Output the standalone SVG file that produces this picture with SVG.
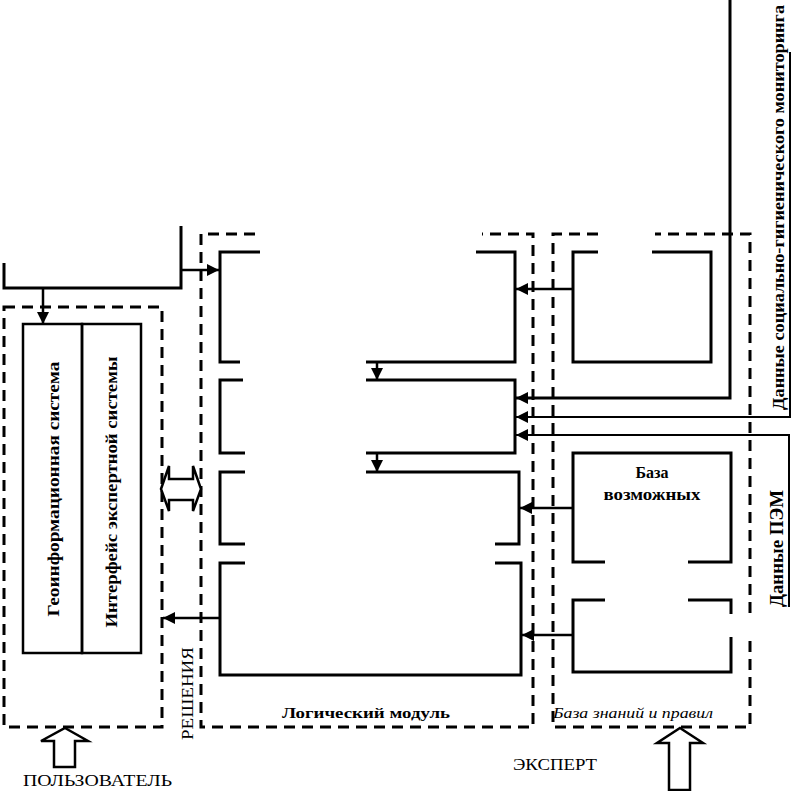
<svg xmlns="http://www.w3.org/2000/svg" width="794" height="791" viewBox="0 0 794 791">
<style>
.box{fill:none;stroke:#000;stroke-width:3}
.dash{fill:none;stroke:#000;stroke-width:3;stroke-dasharray:11 7}
.ln{fill:none;stroke:#000;stroke-width:2.5}
.thin{fill:none;stroke:#000;stroke-width:2}
.hol{fill:#fff;stroke:#000;stroke-width:2.5}
.b{font-family:"Liberation Serif","Times New Roman",serif;font-weight:bold;fill:#000}
.r{font-family:"Liberation Serif","Times New Roman",serif;fill:#000}
.i{font-family:"Liberation Serif","Times New Roman",serif;font-style:italic;fill:#000}
</style>
<defs>
<marker id="ah" markerUnits="userSpaceOnUse" markerWidth="12" markerHeight="12" viewBox="0 0 12 12" refX="12" refY="6" orient="auto">
<path d="M0,0 L12,6 L0,12 Z" fill="#000"/>
</marker>
</defs>
<rect width="794" height="791" fill="#fff"/>

<g id="user-block">
<rect class="dash" x="4" y="307" width="158" height="420"/>
</g>
<g id="logic-module">
<path class="dash" d="M255,234 H201 V727 H533 V234 H482"/>
<text class="b" x="366" y="718" font-size="15" text-anchor="middle" textLength="168" lengthAdjust="spacingAndGlyphs">Логический модуль</text>
</g>
<g id="knowledge-base">
<path class="dash" d="M598,234 H553 V727 H750 V637 M750,613 V234 H655"/>
<text class="i" x="553" y="718" font-size="15" textLength="160" lengthAdjust="spacingAndGlyphs">База знаний и правил</text>
</g>

<g id="top-left-box"><path class="box" d="M4,263 V288 H181 V226"/></g>
<g id="gis">
<rect class="ln" x="23" y="324" width="59" height="329"/>
<text class="b" transform="translate(59,489) rotate(-90)" font-size="17" text-anchor="middle" textLength="255" lengthAdjust="spacingAndGlyphs">Геоинформационная система</text>
</g>
<g id="interface">
<rect class="ln" x="82" y="324" width="59" height="329"/>
<text class="b" transform="translate(117,492) rotate(-90)" font-size="17" text-anchor="middle" textLength="271" lengthAdjust="spacingAndGlyphs">Интерфейс экспертной системы</text>
</g>

<g id="box1"><path class="box" d="M260,252 H220 V362 H240 M366,362 H515 V252 H476"/></g>
<g id="box2"><path class="box" d="M243,380 H220 V453 H245 M366,453 H515 V380 H366"/></g>
<g id="box3"><path class="box" d="M245,472 H220 V544 H245 M495,544 H519 V472 H366"/></g>
<g id="box4"><path class="box" d="M245,563 H220 V675 H521 V563 H495"/></g>

<g id="boxA"><path class="box" d="M598,252 H573 V362 H711 V252 H652"/></g>
<g id="boxB">
<path class="box" d="M605,562 H573 V453 H731 V562 H688"/>
<text class="b" x="652" y="478" font-size="16" text-anchor="middle">База</text>
<text class="b" x="652" y="500" font-size="16" text-anchor="middle" textLength="97" lengthAdjust="spacingAndGlyphs">возможных</text>
</g>
<g id="boxC"><path class="box" d="M605,600 H573 V672 H731 V637 M731,614 V600 H688"/></g>

<g id="connectors">
<path class="ln" d="M181,270 H219" marker-end="url(#ah)"/>
<path class="ln" d="M43,288 V324" marker-end="url(#ah)"/>
<path class="ln" d="M377,362 V380" marker-end="url(#ah)"/>
<path class="ln" d="M377,453 V472" marker-end="url(#ah)"/>
<path class="ln" d="M573,289 H516" marker-end="url(#ah)"/>
<path class="ln" d="M573,508 H520" marker-end="url(#ah)"/>
<path class="ln" d="M573,635 H522" marker-end="url(#ah)"/>
<path class="ln" d="M220,618 H163" marker-end="url(#ah)"/>
<path class="box" d="M730,0 V398 H516" marker-end="url(#ah)"/>
<path class="thin" d="M790,52 V417 H516" marker-end="url(#ah)"/>
<path class="thin" d="M789,607 V435 H516" marker-end="url(#ah)"/>
<path class="hol" d="M161,489 L169,466 L169,479 L193,479 L193,466 L201,489 L193,511 L193,500 L169,500 L169,511 Z"/>
<path class="hol" d="M65,728 L88,741 L75,741 L75,767 L54,767 L54,741 L41,741 Z"/>
<path class="hol" d="M680,728 L703,743 L690,743 L690,790 L669,790 L669,743 L657,743 Z"/>
</g>

<g id="labels">
<text class="b" transform="translate(784,410) rotate(-90)" font-size="17" textLength="405" lengthAdjust="spacingAndGlyphs">Данные социально-гигиенического мониторинга</text>
<text class="b" transform="translate(783,607) rotate(-90)" font-size="18" textLength="117" lengthAdjust="spacingAndGlyphs">Данные ПЭМ</text>
<text class="r" transform="translate(193,740) rotate(-90)" font-size="17" textLength="93" lengthAdjust="spacingAndGlyphs">РЕШЕНИЯ</text>
<text class="r" x="23" y="786" font-size="17" textLength="149" lengthAdjust="spacingAndGlyphs">ПОЛЬЗОВАТЕЛЬ</text>
<text class="r" x="513" y="770" font-size="17" textLength="84" lengthAdjust="spacingAndGlyphs">ЭКСПЕРТ</text>
</g>
</svg>
